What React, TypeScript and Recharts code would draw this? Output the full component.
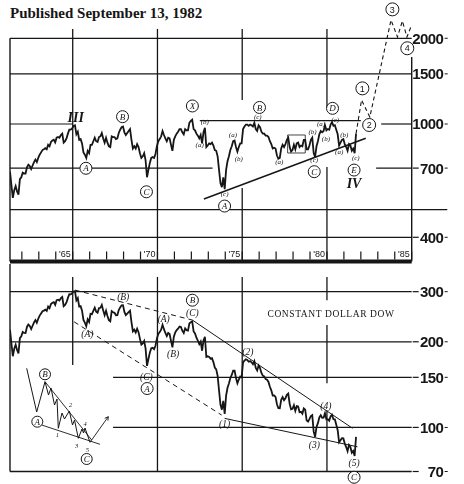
import React from "react";
import {
  LineChart, Line, XAxis, YAxis, ReferenceLine, ReferenceDot, ReferenceArea,
} from "recharts";

const INK = "#161616";
const START = 1962.3; // first monthly sample (late April 1962)
const END = 1986;

// Dow Jones Industrials, one value a month, Apr 1962 .. Sep 1982
const dow = [
  680, 610, 550, 585, 605, 580, 565, 640, 650,
  675, 670, 670, 705, 720, 712, 695, 715, 735, 750, 735, 760,
  780, 795, 810, 815, 822, 815, 845, 835, 865, 875, 880, 862,
  895, 900, 895, 915, 925, 860, 870, 890, 925, 955, 955, 965,
  985, 990, 920, 940, 880, 885, 855, 795, 780, 760, 805, 790,
  845, 845, 870, 895, 870, 865, 900, 905, 930, 890, 860, 895,
  860, 835, 830, 905, 900, 900, 885, 890, 930, 955, 975, 980,
  935, 915, 930, 945, 960, 880, 820, 835, 820, 850, 830, 790,
  760, 770, 790, 745, 650, 690, 730, 760, 765, 760, 785, 835,
  870, 885, 905, 945, 915, 890, 870, 895, 890, 845, 805, 880,
  905, 925, 940, 960, 960, 935, 920, 960, 950, 950, 1010, 1025,
  1035, 960, 950, 925, 910, 890, 915, 855, 935, 970, 830, 840,
  855, 850, 860, 840, 810, 805, 770, 690, 620, 600, 650, 590,
  690, 740, 770, 810, 835, 870, 875, 830, 800, 830, 855, 855,
  960, 980, 995, 995, 985, 995, 990, 980, 1010, 960, 945, 990,
  975, 940, 925, 925, 910, 910, 900, 870, 850, 820, 825, 820,
  775, 755, 760, 820, 845, 830, 850, 880, 895, 830, 800, 810,
  845, 815, 855, 860, 830, 840, 835, 880, 880, 815, 815, 840,
  880, 895, 790, 765, 835, 870, 920, 945, 935, 945, 990, 950,
  960, 955, 995, 1015, 985, 990, 955, 920, 840, 860, 880, 885,
  850, 830, 805, 850, 840, 805, 820, 790, 925,
];

// Constant dollar Dow, same months
const realDow = [
  220.3, 197.5, 177.9, 189.0, 195.2, 187.0, 182.0, 206.0, 209.0,
  216.6, 214.8, 214.5, 225.5, 230.0, 227.3, 221.6, 227.7, 233.8, 238.4, 233.3, 241.0,
  247.2, 251.6, 256.0, 257.4, 259.3, 256.7, 265.8, 262.4, 271.4, 274.3, 275.5, 269.5,
  280.0, 281.2, 279.1, 284.7, 287.4, 266.7, 269.3, 275.0, 285.3, 293.9, 293.5, 296.0,
  300.6, 301.5, 279.5, 284.8, 266.0, 266.9, 257.2, 238.6, 233.5, 226.9, 239.8, 234.8,
  250.9, 250.2, 256.8, 263.5, 255.3, 253.1, 262.6, 263.3, 269.7, 257.4, 247.9, 257.2,
  246.4, 238.3, 236.0, 256.3, 253.9, 252.9, 247.8, 248.2, 258.4, 264.2, 268.7, 269.0,
  254.8, 248.2, 251.2, 254.1, 257.0, 234.5, 217.5, 220.5, 215.6, 222.4, 216.2, 204.8,
  195.5, 197.3, 201.5, 189.3, 164.5, 173.9, 183.2, 189.9, 190.4, 188.4, 193.7, 205.2,
  213.2, 216.3, 220.5, 229.5, 221.5, 214.8, 209.3, 214.7, 212.8, 201.4, 191.3, 208.5,
  215.8, 219.7, 222.4, 226.3, 225.4, 218.7, 214.5, 222.9, 219.7, 218.9, 231.8, 234.4,
  235.9, 217.4, 213.8, 206.7, 202.0, 196.2, 200.5, 186.0, 202.1, 208.2, 176.9, 177.8,
  176.8, 174.4, 175.1, 169.7, 162.3, 160.0, 151.8, 135.0, 120.3, 115.4, 124.0, 111.6,
  129.4, 137.9, 142.7, 149.2, 152.9, 158.3, 158.3, 149.2, 143.0, 147.4, 150.9, 150.0,
  169.2, 171.8, 173.6, 172.7, 170.2, 171.0, 169.4, 166.8, 171.1, 161.8, 158.5, 165.1,
  161.9, 155.3, 152.0, 151.1, 147.9, 147.1, 144.5, 138.9, 135.0, 129.5, 129.5, 128.0,
  120.7, 116.8, 116.7, 125.1, 127.9, 124.7, 126.7, 130.2, 131.5, 121.0, 115.8, 116.3,
  119.7, 114.3, 118.8, 118.4, 113.2, 113.5, 111.7, 116.6, 115.5, 105.9, 104.8, 106.9,
  109.6, 110.5, 96.6, 92.7, 100.3, 103.5, 108.4, 110.3, 108.1, 108.2, 112.2, 106.6,
  106.9, 105.6, 109.4, 110.8, 106.9, 106.7, 102.2, 97.8, 88.7, 90.2, 91.7, 91.5,
  87.8, 85.3, 82.5, 86.8, 85.4, 81.5, 82.7, 79.4, 92.6,
];

// projected path after the 1982 low
const projT = [1982.717, 1983.04, 1983.53, 1984.78, 1985.16, 1985.45, 1985.72, 1986.0];
const projV = [925, 1214, 1058, 2319, 2021, 2300, 2021, 2227];

const topTicks = [400, 700, 1000, 1500, 2000];
const bottomTicks = [70, 100, 150, 200, 300];
const yearTicks = [
  1963, 1964, 1965, 1966, 1967, 1968, 1969, 1970, 1971, 1972, 1973, 1974,
  1975, 1976, 1977, 1978, 1979, 1980, 1981, 1982, 1983, 1984, 1985, 1986,
];
const yearLabels: Record<number, string> = {
  1966: "'65", 1971: "'70", 1976: "'75", 1981: "'80", 1986: "'85",
};

// wave labels
const topCircled = [
  { t: 1968.94, v: 1061, s: "B" }, { t: 1966.78, v: 699, s: "A" },
  { t: 1970.35, v: 578, s: "C" }, { t: 1973.06, v: 1157, s: "X" },
  { t: 1977.02, v: 1143, s: "B" }, { t: 1981.33, v: 1135, s: "D" },
  { t: 1980.25, v: 680, s: "C" }, { t: 1982.6, v: 689, s: "E" },
  { t: 1974.96, v: 515, s: "A" },
];
const topNumbers = [
  { t: 1983.09, v: 1334, s: "1" }, { t: 1983.49, v: 992, s: "2" },
  { t: 1984.86, v: 2527, s: "3" }, { t: 1985.74, v: 1845, s: "4" },
];
const topRoman = [{ t: 1966.18, v: 1054, s: "III" }, { t: 1982.6, v: 619, s: "IV" }];
const topSmall = [
  { t: 1973.79, v: 1019, s: "(b)" }, { t: 1973.49, v: 844, s: "(a)" },
  { t: 1975.45, v: 915, s: "(a)" }, { t: 1975.8, v: 758, s: "(b)" },
  { t: 1974.96, v: 568, s: "(c)" }, { t: 1976.92, v: 1061, s: "(c)" },
  { t: 1978.19, v: 737, s: "(a)" }, { t: 1980.15, v: 940, s: "(b)" },
  { t: 1980.25, v: 752, s: "(c)" }, { t: 1980.65, v: 1006, s: "(a)" },
  { t: 1980.94, v: 891, s: "(b)" }, { t: 1981.49, v: 1033, s: "(c)" },
  { t: 1982.02, v: 915, s: "(b)" }, { t: 1981.72, v: 799, s: "(a)" },
  { t: 1982.7, v: 765, s: "(c)" },
];
const bottomParen = [
  { t: 1968.98, v: 289, s: "(B)" }, { t: 1966.86, v: 212.9, s: "(A)" },
  { t: 1971.37, v: 241.7, s: "(A)" }, { t: 1971.92, v: 182, s: "(B)" },
  { t: 1973.06, v: 252.6, s: "(C)" }, { t: 1970.35, v: 150.6, s: "(C)" },
  { t: 1976.33, v: 184, s: "(2)" }, { t: 1974.96, v: 103.4, s: "(1)" },
  { t: 1980.26, v: 86.7, s: "(3)" }, { t: 1980.93, v: 118.9, s: "(4)" },
  { t: 1982.6, v: 75.2, s: "(5)" },
];
const bottomCircled = [
  { t: 1973.06, v: 280, s: "B" }, { t: 1970.39, v: 137, s: "A" }, { t: 1982.6, v: 66.8, s: "C" },
];

// inset schematic (its own 0..110 box, y downwards)
const insetX = [16.7, 26.7, 35, 38.5, 41, 44.5, 47, 48.3, 52, 54.5, 59.3, 62.5, 64.5, 68.3, 72, 73.5, 75, 80];
const insetY = [13.3, 57, 26.7, 40, 33, 50, 44, 73.3, 58, 64, 56, 70, 65, 83.3, 74, 78, 73, 87.3];
const insetLabels = [
  { x: 35, y: 19.3, s: "B", c: true }, { x: 27.3, y: 66.7, s: "A", c: true },
  { x: 76.7, y: 104, s: "C", c: true }, { x: 47.3, y: 80, s: "1" },
  { x: 60.7, y: 50, s: "2" }, { x: 66.7, y: 90.5, s: "3" },
  { x: 75, y: 68.5, s: "4" }, { x: 77.3, y: 95, s: "5" },
];

const topData = dow.map((v, i) => ({ t: START + i / 12, v }));
const bottomData = realDow.map((v, i) => ({ t: START + i / 12, v }));
const projData = projT.map((t, i) => ({ t, v: projV[i] }));
const insetData = insetX.map((x, i) => ({ x, y: insetY[i] }));

const serif = '"Liberation Serif", "DejaVu Serif", serif';
const sans = '"Liberation Sans", Arial, sans-serif';

const Circled = ({ cx, cy, s, r = 6, italic = true }: any) => (
  <g>
    <circle cx={cx} cy={cy} r={r} fill="#fff" stroke={INK} strokeWidth={1} />
    <text x={cx} y={cy} dy="0.35em" textAnchor="middle" fill={INK}
      fontFamily={italic ? serif : sans} fontStyle={italic ? "italic" : "normal"} fontSize={9}>{s}</text>
  </g>
);

const Label = ({ cx, cy, s, size = 9, bold = false, italic = true, family = serif, spacing = 0 }: any) => (
  <text x={cx} y={cy} dy="0.35em" textAnchor="middle" fill={INK} fontFamily={family}
    fontStyle={italic ? "italic" : "normal"} fontWeight={bold ? "bold" : "normal"}
    fontSize={size} letterSpacing={spacing}>{s}</text>
);

const YearTick = ({ x, y, payload }: any) => {
  const lab = yearLabels[payload.value];
  return (
    <g>
      <line x1={x} x2={x} y1={y - 2} y2={y - 10} stroke={INK} strokeWidth={1.2} />
      {lab && (
        <text x={x - 2} y={y - 5} textAnchor="end" fontSize={9} fontFamily={sans} fill={INK}>{lab}</text>
      )}
    </g>
  );
};

const ValueTick = ({ x, y, payload }: any) => {
  const s = String(payload.value);
  return (
    <g>
      {s.length < 4 && <line x1={x + 1} x2={x + 7} y1={y} y2={y} stroke={INK} strokeWidth={1.2} />}
      <text x={x + 31.5} y={y} dy="0.36em" textAnchor="end" fontSize={15} fontWeight="bold"
        letterSpacing={-0.6} fontFamily={sans} fill={INK}>{s}</text>
      <line x1={x + 33} x2={x + 36} y1={y} y2={y} stroke={INK} strokeWidth={1} />
    </g>
  );
};

const seg = (x1: number, y1: number, x2: number, y2: number) => [{ x: x1, y: y1 }, { x: x2, y: y2 }];

function TopChart() {
  const lo = 328.9;
  return (
    <LineChart width={464} height={266} data={topData} margin={{ top: 0, right: 0, bottom: 0, left: 10 }}>
      <XAxis type="number" dataKey="t" domain={[START, END]} allowDataOverflow ticks={yearTicks}
        interval={0} height={4.5} tickSize={0} tickMargin={0} tickLine={false}
        axisLine={{ stroke: INK, strokeWidth: 4 }} tick={(p: any) => <YearTick {...p} />} />
      <YAxis orientation="right" scale="log" domain={[lo, 2726]} allowDataOverflow ticks={topTicks}
        interval={0} width={52.3} axisLine={false} tickLine={false} tickSize={0} tickMargin={0}
        tick={(p: any) => <ValueTick {...p} />} />

      {/* grid */}
      <ReferenceLine y={2000} stroke={INK} strokeWidth={1.2} ifOverflow="visible" />
      <ReferenceLine y={1500} stroke={INK} strokeWidth={1.2} ifOverflow="visible" />
      <ReferenceLine y={400} stroke={INK} strokeWidth={1.2} ifOverflow="visible" />
      <ReferenceLine segment={seg(START, 1000, 1966, 1000)} stroke={INK} strokeWidth={1.2} ifOverflow="visible" />
      <ReferenceLine segment={seg(1984.2, 1000, END, 1000)} stroke={INK} strokeWidth={1.2} ifOverflow="visible" />
      <ReferenceLine segment={seg(START, 700, 1974.25, 700)} stroke={INK} strokeWidth={1.2} ifOverflow="visible" />
      <ReferenceLine segment={seg(1983.9, 700, END, 700)} stroke={INK} strokeWidth={1.2} ifOverflow="visible" />
      <ReferenceLine segment={seg(START, 500, 1988.1, 500)} stroke={INK} strokeWidth={1.2} ifOverflow="visible" />
      <ReferenceLine segment={seg(START, 2000, START, lo)} stroke={INK} strokeWidth={1.4} ifOverflow="visible" />
      <ReferenceLine segment={seg(1966, 2157, 1966, lo)} stroke={INK} strokeWidth={1.3} ifOverflow="visible" />
      <ReferenceLine segment={seg(1971, 2157, 1971, lo)} stroke={INK} strokeWidth={1.3} ifOverflow="visible" />
      <ReferenceLine segment={seg(1976, 2157, 1976, 1214)} stroke={INK} strokeWidth={1.3} ifOverflow="visible" />
      <ReferenceLine segment={seg(1976, 596, 1976, lo)} stroke={INK} strokeWidth={1.3} ifOverflow="visible" />
      <ReferenceLine segment={seg(1981, 2157, 1981, 1138)} stroke={INK} strokeWidth={1.3} ifOverflow="visible" />
      <ReferenceLine segment={seg(1981, 706, 1981, lo)} stroke={INK} strokeWidth={1.3} ifOverflow="visible" />
      <ReferenceLine segment={seg(END, 1719, END, lo)} stroke={INK} strokeWidth={1.4} ifOverflow="visible" />

      {/* triangle */}
      <ReferenceLine segment={seg(1973.5, 1027, 1983.0, 1027)} stroke={INK} strokeWidth={1.2} ifOverflow="visible" />
      <ReferenceLine segment={seg(1973.74, 545, 1983.29, 891)} stroke={INK} strokeWidth={1.5} ifOverflow="visible" />
      <ReferenceArea x1={1978.68} x2={1979.72} y1={791} y2={915} fill="none" stroke={INK}
        strokeWidth={0.8} ifOverflow="visible" />

      <Line type="linear" dataKey="v" stroke={INK} strokeWidth={1.8} dot={false} isAnimationActive={false} />
      <Line type="linear" data={projData} dataKey="v" stroke={INK} strokeWidth={1.1}
        strokeDasharray="4 3" dot={false} isAnimationActive={false} />

      {topSmall.map((a, i) => (
        <ReferenceDot key={"s" + i} x={a.t} y={a.v} r={0} ifOverflow="visible"
          shape={(p: any) => <Label cx={p.cx} cy={p.cy} s={a.s} size={7} />} />
      ))}
      {topRoman.map((a, i) => (
        <ReferenceDot key={"r" + i} x={a.t} y={a.v} r={0} ifOverflow="visible"
          shape={(p: any) => <Label cx={p.cx} cy={p.cy} s={a.s} size={14} bold />} />
      ))}
      {topCircled.map((a, i) => (
        <ReferenceDot key={"c" + i} x={a.t} y={a.v} r={6} ifOverflow="visible"
          shape={(p: any) => <Circled cx={p.cx} cy={p.cy} s={a.s} />} />
      ))}
      {topNumbers.map((a, i) => (
        <ReferenceDot key={"n" + i} x={a.t} y={a.v} r={6.5} ifOverflow="visible"
          shape={(p: any) => <Circled cx={p.cx} cy={p.cy} s={a.s} r={6.5} italic={false} />} />
      ))}
    </LineChart>
  );
}

function BottomChart() {
  const lo = 70;
  const hi = 375.3;
  return (
    <LineChart width={464} height={220} data={bottomData} margin={{ top: 0, right: 0, bottom: 0, left: 10 }}>
      <XAxis type="number" dataKey="t" domain={[START, END]} allowDataOverflow ticks={[1966, 1971, 1976, 1981]}
        interval={0} height={12.5} tickSize={5} tick={false}
        axisLine={{ stroke: INK, strokeWidth: 1.3 }} tickLine={{ stroke: INK, strokeWidth: 1.2 }} />
      <YAxis orientation="right" scale="log" domain={[lo, hi]} allowDataOverflow ticks={bottomTicks}
        interval={0} width={52.3} axisLine={false} tickLine={false} tickSize={0} tickMargin={0}
        tick={(p: any) => <ValueTick {...p} />} />

      <ReferenceLine y={300} stroke={INK} strokeWidth={1.2} ifOverflow="visible" />
      <ReferenceLine y={200} stroke={INK} strokeWidth={1.2} ifOverflow="visible" />
      <ReferenceLine segment={seg(1968.38, 150, END, 150)} stroke={INK} strokeWidth={1.2} ifOverflow="visible" />
      <ReferenceLine segment={seg(1968.38, 100, END, 100)} stroke={INK} strokeWidth={1.2} ifOverflow="visible" />
      <ReferenceLine segment={seg(START, hi, START, lo)} stroke={INK} strokeWidth={1.4} ifOverflow="visible" />
      <ReferenceLine segment={seg(1966, 338, 1966, 165.6)} stroke={INK} strokeWidth={1.3} ifOverflow="visible" />
      <ReferenceLine segment={seg(1971, 338, 1971, lo)} stroke={INK} strokeWidth={1.3} ifOverflow="visible" />
      <ReferenceLine segment={seg(1976, 338, 1976, lo)} stroke={INK} strokeWidth={1.3} ifOverflow="visible" />
      <ReferenceLine segment={seg(1981, 338, 1981, 280)} stroke={INK} strokeWidth={1.3} ifOverflow="visible" />
      <ReferenceLine segment={seg(1981, 229, 1981, 143)} stroke={INK} strokeWidth={1.3} ifOverflow="visible" />
      <ReferenceLine segment={seg(1981, 115, 1981, lo)} stroke={INK} strokeWidth={1.3} ifOverflow="visible" />

      {/* channel lines */}
      <ReferenceLine segment={seg(1966.14, 303.8, 1973.06, 238.4)} stroke={INK} strokeWidth={1}
        strokeDasharray="5 4" ifOverflow="visible" />
      <ReferenceLine segment={seg(1973.06, 238.4, 1982.51, 99.3)} stroke={INK} strokeWidth={1} ifOverflow="visible" />
      <ReferenceLine segment={seg(1966.08, 235.1, 1974.79, 110.5)} stroke={INK} strokeWidth={1}
        strokeDasharray="5 4" ifOverflow="visible" />
      <ReferenceLine segment={seg(1974.96, 107.6, 1982.8, 85.5)} stroke={INK} strokeWidth={1} ifOverflow="visible" />

      <Line type="linear" dataKey="v" stroke={INK} strokeWidth={1.8} dot={false} isAnimationActive={false} />

      <ReferenceDot x={1981.24} y={251.6} r={0} ifOverflow="visible"
        shape={(p: any) => <Label cx={p.cx} cy={p.cy} s="CONSTANT DOLLAR DOW" size={9.5} italic={false} spacing={0.6} />} />
      {bottomParen.map((a, i) => (
        <ReferenceDot key={"p" + i} x={a.t} y={a.v} r={0} ifOverflow="visible"
          shape={(p: any) => <Label cx={p.cx} cy={p.cy} s={a.s} size={9.5} />} />
      ))}
      {bottomCircled.map((a, i) => (
        <ReferenceDot key={"c" + i} x={a.t} y={a.v} r={6} ifOverflow="visible"
          shape={(p: any) => <Circled cx={p.cx} cy={p.cy} s={a.s} />} />
      ))}
    </LineChart>
  );
}

function Inset() {
  return (
    <LineChart width={110} height={110} margin={{ top: 0, right: 0, bottom: 0, left: 0 }}>
      <XAxis type="number" dataKey="x" domain={[0, 110]} hide />
      <YAxis type="number" domain={[0, 110]} reversed hide />
      <ReferenceLine segment={seg(35, 26.7, 81.7, 85)} stroke={INK} strokeWidth={0.9} ifOverflow="visible" />
      <ReferenceLine segment={seg(31.7, 70, 90, 89.3)} stroke={INK} strokeWidth={0.9} ifOverflow="visible" />
      <ReferenceLine segment={seg(80, 87.3, 98.3, 61.7)} stroke={INK} strokeWidth={0.9} ifOverflow="visible" />
      <ReferenceLine segment={seg(94.7, 63.3, 98.3, 61.7)} stroke={INK} strokeWidth={0.9} ifOverflow="visible" />
      <ReferenceLine segment={seg(97.9, 65.7, 98.3, 61.7)} stroke={INK} strokeWidth={0.9} ifOverflow="visible" />
      <Line type="linear" data={insetData} dataKey="y" stroke={INK} strokeWidth={1} dot={false}
        isAnimationActive={false} />
      {insetLabels.map((a, i) => (
        <ReferenceDot key={"i" + i} x={a.x} y={a.y} r={a.c ? 5.5 : 0} ifOverflow="visible"
          shape={(p: any) => a.c
            ? <Circled cx={p.cx} cy={p.cy} s={a.s} r={5.5} />
            : <Label cx={p.cx} cy={p.cy} s={a.s} size={6.5} />} />
      ))}
    </LineChart>
  );
}

const layer = { position: "absolute" as const, willChange: "transform" };

export default function App() {
  return (
    <div style={{ position: "absolute", left: 0, top: 0, width: 464, height: 484, background: "#fff", overflow: "hidden" }}>
      <div style={{
        position: "absolute", left: 10, top: 5.7, fontFamily: serif, fontWeight: "bold",
        fontSize: 15, lineHeight: "15px", color: INK, whiteSpace: "nowrap",
      }}>
        Published September 13, 1982
      </div>
      <div style={{ ...layer, left: 0, top: 0 }}><TopChart /></div>
      <div style={{ ...layer, left: 0, top: 264 }}><BottomChart /></div>
      <div style={{ ...layer, left: 10, top: 355 }}><Inset /></div>
    </div>
  );
}
